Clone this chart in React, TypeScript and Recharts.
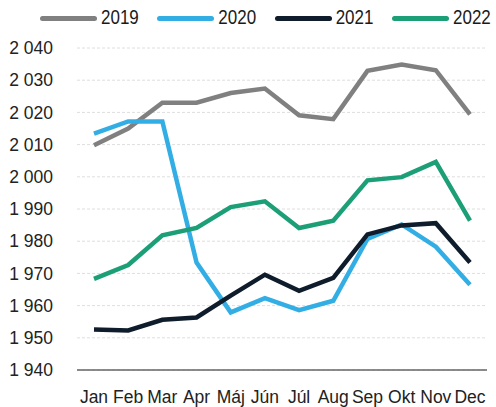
import { LineChart, Line, XAxis, YAxis, CartesianGrid, Legend } from 'recharts'

const months = ['Jan', 'Feb', 'Mar', 'Apr', 'Máj', 'Jún', 'Júl', 'Aug', 'Sep', 'Okt', 'Nov', 'Dec']
const y2019 = [2009.8, 2015, 2023, 2023, 2026, 2027.4, 2019.1, 2017.9, 2032.9, 2034.9, 2033.1, 2019.4]
const y2020 = [2013.4, 2017.2, 2017.2, 1973.4, 1957.9, 1962.3, 1958.6, 1961.5, 1980.7, 1985.2, 1978.3, 1966.5]
const y2021 = [1952.6, 1952.3, 1955.6, 1956.3, 1963.1, 1969.6, 1964.6, 1968.6, 1982.1, 1984.9, 1985.6, 1973.4]
const y2022 = [1968.3, 1972.6, 1981.8, 1984.1, 1990.6, 1992.4, 1984.1, 1986.4, 1998.9, 1999.9, 2004.6, 1986.4]
const yTicks = [1940, 1950, 1960, 1970, 1980, 1990, 2000, 2010, 2020, 2030, 2040]

const series = [
  { key: 'y2019', name: '2019', color: '#808080' },
  { key: 'y2020', name: '2020', color: '#33aee5' },
  { key: 'y2021', name: '2021', color: '#0e1c2b' },
  { key: 'y2022', name: '2022', color: '#1c9f77' },
]

const data = months.map((m, i) => ({
  month: m,
  y2019: y2019[i],
  y2020: y2020[i],
  y2021: y2021[i],
  y2022: y2022[i],
}))

const font = '"Liberation Sans", Arial, sans-serif'

// 2040 -> "2 040"
const fmt = (v: number) => {
  const s = String(v)
  return s.length > 3 ? s.slice(0, s.length - 3) + ' ' + s.slice(-3) : s
}

function LegendContent() {
  return (
    <div style={{ height: 48, display: 'flex', alignItems: 'flex-start', paddingLeft: 40, paddingTop: 8, boxSizing: 'border-box', fontFamily: font, fontSize: 17, color: '#1a1a1a' }}>
      {series.map((s) => (
        <div key={s.key} style={{ display: 'flex', alignItems: 'center', marginRight: 18.5 }}>
          <div style={{ width: 57, height: 5, borderRadius: 3, background: s.color, marginRight: 4 }} />
          <span style={{ display: 'inline-block', transform: 'scaleY(1.18)', lineHeight: '20px' }}>{s.name}</span>
        </div>
      ))}
    </div>
  )
}

export default function App() {
  return (
    <div style={{ position: 'absolute', left: 0, top: 0, width: 496, height: 407, background: '#fff' }}>
      <LineChart width={496} height={407} data={data} margin={{ top: 0, right: 9, left: 0, bottom: 0 }}>
        <Legend verticalAlign="top" align="left" content={<LegendContent />} />
        <CartesianGrid vertical={false} stroke="#dedede" strokeDasharray="3 2" />
        <XAxis
          dataKey="month"
          height={37}
          padding={{ left: 17, right: 17 }}
          tickLine={false}
          axisLine={{ stroke: '#666', strokeWidth: 1.5 }}
          interval={0}
          tick={{ fill: '#222', fontSize: 17.5, fontFamily: font }}
          tickMargin={15}
        />
        <YAxis
          domain={[1940, 2040]}
          ticks={yTicks}
          width={77}
          tickLine={false}
          axisLine={false}
          tickSize={0}
          tickMargin={24}
          tickFormatter={fmt}
          tick={{ fill: '#222', fontSize: 17.5, fontFamily: font }}
        />
        {series.map((s) => (
          <Line
            key={s.key}
            dataKey={s.key}
            name={s.name}
            stroke={s.color}
            strokeWidth={4.5}
            dot={false}
            type="linear"
            isAnimationActive={false}
          />
        ))}
      </LineChart>
    </div>
  )
}
